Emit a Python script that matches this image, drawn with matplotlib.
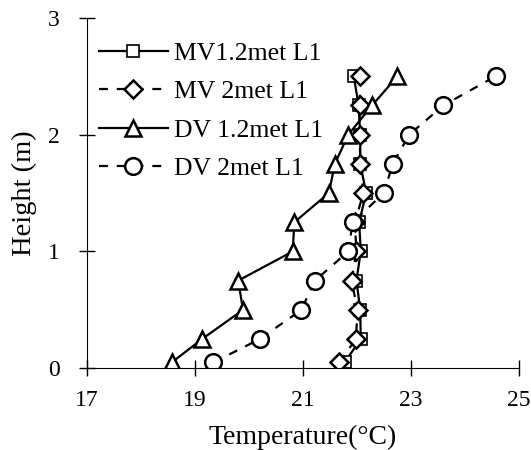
import matplotlib.pyplot as plt

plt.rcParams['font.family'] = ['Liberation Serif', 'DejaVu Serif']

height = [0.05, 0.25, 0.5, 0.75, 1.0, 1.25, 1.5, 1.75, 2.0, 2.25, 2.5]

mv_12 = [21.77, 22.07, 22.06, 21.99, 22.07, 22.04, 22.17, 22.06, 22.06, 22.03, 21.94]
mv_2 = [21.67, 21.98, 22.01, 21.90, 21.99, 21.96, 22.12, 22.06, 22.05, 22.05, 22.06]
dv_12 = [18.57, 19.13, 19.89, 19.80, 20.81, 20.84, 21.48, 21.59, 21.84, 22.28, 22.75]
dv_2 = [19.34, 20.20, 20.97, 21.22, 21.84, 21.92, 22.50, 22.66, 22.97, 23.60, 24.57]

labels = ['MV1.2met L1', 'MV 2met L1', 'DV 1.2met L1', 'DV 2met L1']

fig = plt.figure(figsize=(5.31, 4.5), dpi=100)
ax = fig.add_axes([0.1638, 0.1816, 0.8136, 0.779])

lw = 1.6
ax.plot(mv_12, height, '-', color='black', lw=lw, marker='s', ms=9,
        mfc='white', mec='black', mew=1.2, label=labels[0])
ax.plot(mv_2, height, '--', color='black', lw=lw, marker='D', ms=9,
        mfc='white', mec='black', mew=1.8, dashes=(4, 4), label=labels[1])
ax.plot(dv_12, height, '-', color='black', lw=lw, marker='^', ms=12,
        mfc='white', mec='black', mew=1.8, label=labels[2])
ax.plot(dv_2, height, '--', color='black', lw=lw, marker='o', ms=12,
        mfc='white', mec='black', mew=1.8, dashes=(4, 4), label=labels[3])

ax.set_xlim(17, 25)
ax.set_ylim(0, 3)
ax.set_xticks([17, 19, 21, 23, 25])
ax.set_yticks([0, 1, 2, 3])
ax.spines['top'].set_visible(False)
ax.spines['right'].set_visible(False)
ax.tick_params(direction='inout', length=11, width=1, labelsize=17, color='black')
ax.tick_params(axis='x', pad=10)
ax.tick_params(axis='y', pad=14)
ax.set_xlabel('Temperature(°C)', fontsize=20, labelpad=10)
ax.set_ylabel('Height (m)', fontsize=20.5, labelpad=8)

ax.legend(loc='upper left', bbox_to_anchor=(0.003, 0.96), frameon=False,
          fontsize=18.5, handlelength=2.7, handletextpad=0.25, labelspacing=0.6,
          borderaxespad=0.0)

fig.savefig('out.png', dpi=100)
